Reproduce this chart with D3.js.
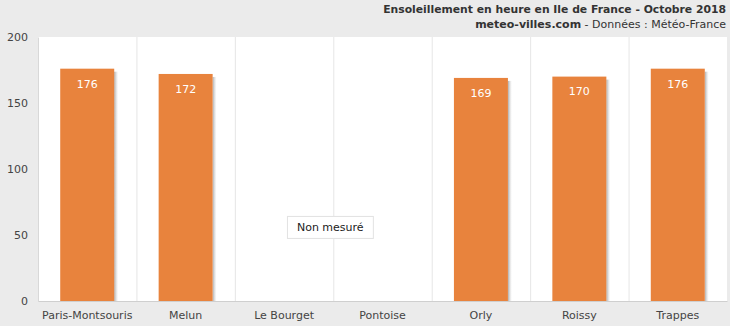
<!DOCTYPE html>
<html><head><meta charset="utf-8">
<script src="https://cdn.jsdelivr.net/npm/d3@7"></script>
<style>
html,body{margin:0;padding:0;background:#ebebeb;}
svg{display:block;font-family:"DejaVu Sans",Verdana,sans-serif;}
</style></head><body>
<svg id="c" width="730" height="326"></svg>
<script>
const categories = ["Paris-Montsouris","Melun","Le Bourget","Pontoise","Orly","Roissy","Trappes"];
const values = [176,172,null,null,169,170,176];
const yTicks = [0,50,100,150,200];
const titleLine1 = "Ensoleillement en heure en Ile de France - Octobre 2018";
const sourceBold = "meteo-villes.com";
const sourceRest = " - Données : Météo-France";
const missingLabel = "Non mesuré";

const svg = d3.select("#c");
const W = 730, H = 326;
const m = {left:38, right:3, top:37, bottom:25};
const x = d3.scaleBand().domain(categories).range([m.left, W - m.right]).paddingInner(0).paddingOuter(0);
const y = d3.scaleLinear().domain([0,200]).range([H - m.bottom, m.top]);

const defs = svg.append("defs");
const grad = defs.append("linearGradient").attr("id","sh").attr("x1","0").attr("x2","1");
grad.append("stop").attr("offset","0").attr("stop-color","#999").attr("stop-opacity",0.8);
grad.append("stop").attr("offset","1").attr("stop-color","#ccc").attr("stop-opacity",0);

// plot area
svg.append("rect").attr("x",m.left).attr("y",m.top).attr("width",W-m.right-m.left).attr("height",H-m.bottom-m.top).attr("fill","#fff");

// vertical grid lines at band boundaries
const bounds = categories.slice(1).map(c => x(c));
svg.append("g").selectAll("line").data(bounds).join("line")
  .attr("x1",d=>d+0.5).attr("x2",d=>d+0.5).attr("y1",m.top).attr("y2",H-m.bottom)
  .attr("stroke","#e6e6e6").attr("stroke-width",1);

// bars
const bw = 54;
const data = categories.map((c,i)=>({c, v:values[i]})).filter(d=>d.v!=null);
const off = (x.bandwidth()-bw)/2;
svg.append("g").selectAll("rect").data(data).join("rect")
  .attr("x",d=>x(d.c)+off+bw).attr("y",d=>y(d.v)+3).attr("width",4).attr("height",d=>y(0)-y(d.v)-3)
  .attr("fill","url(#sh)");
svg.append("g").selectAll("rect").data(data).join("rect")
  .attr("x",d=>x(d.c)+off).attr("y",d=>y(d.v)).attr("width",bw).attr("height",d=>y(0)-y(d.v))
  .attr("fill","#e8833d");
svg.append("g").selectAll("text").data(data).join("text")
  .attr("x",d=>x(d.c)+x.bandwidth()/2).attr("y",d=>y(d.v)+15).attr("dy","0.35em")
  .attr("text-anchor","middle").attr("fill","#fff").attr("font-size","11px").text(d=>d.v);

// axes
const yAxis = svg.append("g").attr("transform",`translate(${m.left},0)`)
  .call(d3.axisLeft(y).tickValues(yTicks).tickSize(0).tickPadding(10));
yAxis.select(".domain").attr("stroke","#d8d8d8");
yAxis.selectAll("text").attr("font-size","11px").attr("fill","#444").attr("font-family","DejaVu Sans, Verdana, sans-serif");

const xAxis = svg.append("g").attr("transform",`translate(0,${H-m.bottom})`)
  .call(d3.axisBottom(x).tickSize(0).tickPadding(10));
xAxis.select(".domain").attr("stroke","#cfcfcf");
xAxis.selectAll("text").attr("font-size","11px").attr("fill","#444").attr("font-family","DejaVu Sans, Verdana, sans-serif");

// Non mesuré label between missing categories
const miss = categories.filter((c,i)=>values[i]==null);
const mx = (x(miss[0]) + x(miss[miss.length-1]) + x.bandwidth())/2 - 3;
const my = y(56);
const g = svg.append("g");
const t = g.append("text").attr("x",mx).attr("y",my).attr("dy","0.35em").attr("text-anchor","middle")
  .attr("font-size","11px").attr("fill","#222").text(missingLabel);
const bb = t.node().getBBox();
g.insert("rect","text").attr("x",bb.x-9.5).attr("y",bb.y-4.5).attr("width",bb.width+19).attr("height",bb.height+9)
  .attr("fill","#fff").attr("stroke","#e2e2e2");

// title
svg.append("text").attr("x",W-4).attr("y",13).attr("text-anchor","end")
  .attr("font-size","10.8px").attr("font-weight","bold").attr("fill","#333").text(titleLine1);
const st = svg.append("text").attr("x",W-4).attr("y",28).attr("text-anchor","end").attr("font-size","11px").attr("fill","#333");
st.append("tspan").attr("font-weight","bold").text(sourceBold);
st.append("tspan").text(sourceRest);
</script>
</body></html>
